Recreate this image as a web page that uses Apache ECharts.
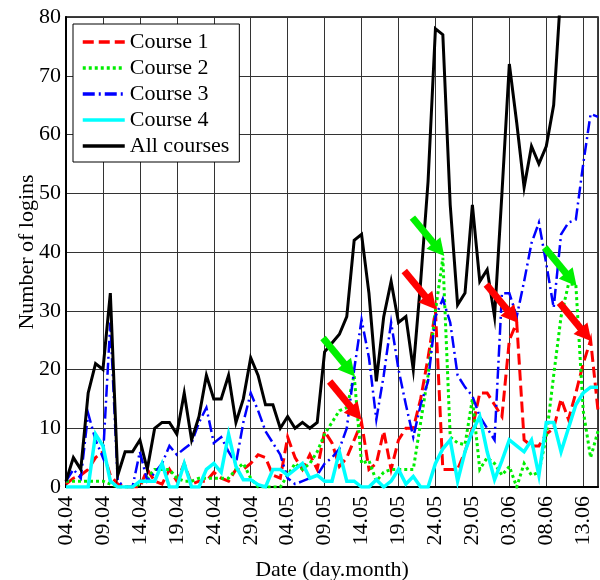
<!DOCTYPE html>
<html>
<head>
<meta charset="utf-8">
<script src="https://cdn.jsdelivr.net/npm/echarts@6/dist/echarts.min.js"></script>
<style>
html,body{margin:0;padding:0;background:#fff;}
#chart{width:600px;height:580px;}
</style>
</head>
<body>
<div id="chart"></div>
<script>
// Tick labels (every 5 days starting 04.04)
const dateLabels = ['04.04','09.04','14.04','19.04','24.04','29.04','04.05','09.05','14.05','19.05','24.05','29.05','03.06','08.06','13.06'];
const seriesNames = ['Course 1','Course 2','Course 3','Course 4','All courses'];

// Daily logins, day 0 = 04.04 ... day 72 = 15.06
const course1 = [0.5,1.5,2,3,5,6,2,0.5,0,0,
                 0,3,1,0.5,3,1,4,0.5,1,1,
                 2.5,1.5,1,3,3,4,5.5,5,2,1.5,
                 8.5,5,3,5.5,3,9.5,7.5,3.5,5,8,
                 11,3,4,9.5,3,8,10,10,15,22,
                 30,3,3,3,6,10,16,16,14,12,
                 25,28,8,7,7,9,10,15,11.5,16,
                 21,25,13];
const course2 = [1,1,1,1,1,1,0.5,0,0,0,
                 0.5,1.5,3,3,3,1.5,1,1,1.5,1.5,
                 1.5,1.5,1.5,3,4,1.5,0,0,0,0,
                 2,4,3,4,6,9,11,13,13.5,19,
                 4,4.5,1,2.5,3,3,3,3,11,19,
                 30,39,8.5,7.5,7.2,15,3,5,4,2,
                 3.5,0,4,2,2.5,8.5,19,29,34.5,34.5,
                 13,5,9.5];
const course3 = [1,3,1.5,12.5,8,5,28,1,0,0,
                 6,1,2.4,4,7,5.5,6.5,7.5,11,13.5,
                 7.5,8.5,6,4,11,16,13,9.5,7.5,5.5,
                 1.5,0.5,1,1.5,2,4,5,6.5,10,20,
                 28.5,22,11.5,19,28,20,14,8.5,14,18,
                 29,32,28,19,17,15.5,12,10,8,33,
                 33,29,35,41.5,45,38,30.5,43,45,45.5,
                 55,63.5,63];
const course4 = [0,0,0,0,9,7,1,0,0,0,
                 1,1,1,4,0,0,4,0,0,3,
                 4,2.5,9,3.5,1.25,1.25,0.4,0,3,3,
                 2,3,4,1.5,2,1,1,6,1,1,
                 0,0,1.25,0,1,3,0.5,1.8,0,0,
                 4,6.5,8,1,6,9.5,12,6,1.25,4.5,
                 8,7,6,8,2,11,11,6,10,14,
                 16,17,17];
const allCourses = [1,5,3,16,21,20,33,2,6,6,
                    8,3,10,11,11,9,16,8,12,19,
                    15,15,19,11,15,22,19,14,14,10,
                    12,10,11,10,11,23,24.5,26,29,42,
                    43,33,18,29,35,28,29,20,35,52,
                    78,77,48,31,33,48,35,37,29,50,
                    72,62,51,58,55,58,65,85,92,95,
                    93,90,92];

// Annotation arrow tips [day, value]
const greenArrowTips = [[39.1,18.8],[51.2,39.3],[69.1,34.2]];
const redArrowTips = [[40.0,11.4],[50.1,30.2],[61.2,27.9],[71.1,24.8]];

const FONT = 'Liberation Serif';
const toPairs = arr => arr.map((v,i)=>[i,v]);

const chart = echarts.init(document.getElementById('chart'), null, {renderer:'canvas'});

function lineSeries(name, data, color, width, type, z){
  return {
    name, type:'line', data: toPairs(data), symbol:'none', showSymbol:false,
    clip:true, z, animation:false,
    lineStyle:{color, width, type, cap:'butt', join:'miter'},
    itemStyle:{color}
  };
}

chart.setOption({
  animation:false,
  backgroundColor:'#fff',
  grid:{left:66, right:2, top:17, bottom:93, show:true, borderColor:'#000', borderWidth:1.5,
        backgroundColor:'transparent', outerBoundsMode:'none', containLabel:false},
  legend:{
    left:73, top:24, orient:'vertical',
    itemWidth:42, itemHeight:14, itemGap:0,
    padding:[5,10,3,8],
    borderColor:'#000', borderWidth:1, backgroundColor:'#fff',
    itemStyle:{opacity:0},
    lineStyle:{width:3.5},
    textStyle:{fontFamily:FONT, fontSize:22, color:'#000', lineHeight:26},
    data: seriesNames
  },
  xAxis:{
    type:'value', min:0, max:72, interval:5,
    name:'Date (day.month)', nameLocation:'middle', nameGap:72, nameMoveOverlap:false,
    nameTextStyle:{fontFamily:FONT, fontSize:22, color:'#000'},
    axisLine:{show:true, lineStyle:{color:'#000', width:2}},
    axisTick:{show:false},
    axisLabel:{rotate:90, margin:9, padding:[9,0,0,0], fontFamily:FONT, fontSize:22, color:'#000',
      formatter: v => (v % 5 === 0 && dateLabels[v/5]) ? dateLabels[v/5] : ''},
    splitLine:{show:true, lineStyle:{color:'#333', width:1}}
  },
  yAxis:{
    type:'value', min:0, max:80, interval:10,
    name:'Number of logins', nameLocation:'middle', nameGap:28, nameRotate:90, nameMoveOverlap:false,
    nameTextStyle:{fontFamily:FONT, fontSize:22, color:'#000'},
    axisLine:{show:true, lineStyle:{color:'#000', width:2}},
    axisTick:{show:false},
    axisLabel:{margin:5, fontFamily:FONT, fontSize:22, color:'#000'},
    splitLine:{show:true, lineStyle:{color:'#333', width:1}}
  },
  series:[
    lineSeries(seriesNames[0], course1, '#ff0000', 3, [11,5], 3),
    lineSeries(seriesNames[1], course2, '#00ee00', 3, [3,3], 4),
    lineSeries(seriesNames[2], course3, '#0000ff', 2.5, [12,4,2,4], 5),
    lineSeries(seriesNames[3], course4, '#00ffff', 3.5, 'solid', 6),
    lineSeries(seriesNames[4], allCourses, '#000000', 3, 'solid', 7)
  ]
});

function arrowGraphics(tips, color){
  const out = [];
  const ux = 0.638, uy = 0.770; // direction (down-right)
  const len = 50, headLen = 17, headHalf = 9;
  tips.forEach(t => {
    const p = chart.convertToPixel({gridIndex:0}, t);
    const tx = p[0], ty = p[1];
    const bx = tx - headLen*ux, by = ty - headLen*uy;
    const sx = tx - len*ux, sy = ty - len*uy;
    const nx = -uy, ny = ux;
    out.push({type:'line', z:50, shape:{x1:sx, y1:sy, x2:bx+ux, y2:by+uy},
      style:{stroke:color, lineWidth:7, lineCap:'butt'}});
    out.push({type:'polygon', z:50, shape:{points:[[tx,ty],[bx+headHalf*nx, by+headHalf*ny],[bx-headHalf*nx, by-headHalf*ny]]},
      style:{fill:color}});
  });
  return out;
}
chart.setOption({graphic: arrowGraphics(greenArrowTips, '#00f000').concat(arrowGraphics(redArrowTips, '#ff0000'))});
</script>
</body>
</html>
